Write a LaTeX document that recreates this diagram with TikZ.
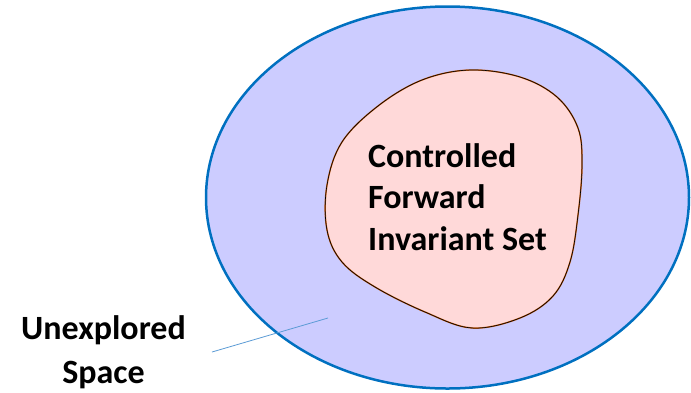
\documentclass[tikz,border=0pt]{standalone}
\usepackage{fontspec}
\setmainfont{Carlito}
\definecolor{outerfill}{HTML}{CCCCFF}
\definecolor{outerline}{HTML}{0070C0}
\definecolor{innerfill}{HTML}{FFD9D9}
\definecolor{innerline}{HTML}{C55A11}
\definecolor{leader}{HTML}{5B9BD5}
\tikzset{
  lbl/.style={font=\bfseries\fontsize{34}{41.5}\selectfont, align=left, inner sep=0pt},
  outlbl/.style={font=\bfseries\fontsize{34}{44}\selectfont, align=center, inner sep=0pt},
}
\begin{document}
\begin{tikzpicture}[x=1pt,y=-1pt]
\useasboundingbox (0,0) rectangle (691,392);
\draw[outerline, fill=outerfill, line width=2.5pt] (447.5,197.5) ellipse [x radius=241.5, y radius=191];
\path[fill=innerfill, draw=innerline, line width=1.4pt] plot[smooth cycle, tension=0.6] coordinates {
 (470,70) (520,77) (557,97) (578,128) (582,165) (578,215) (570,262) (553,296) (520,318) (472,328)
 (425,312) (375,287) (342,262) (327,230) (327,185) (342,142) (378,106) (422,80)};
\draw[black, line width=0.6pt] plot[smooth cycle, tension=0.6] coordinates {
 (470,70) (520,77) (557,97) (578,128) (582,165) (578,215) (570,262) (553,296) (520,318) (472,328)
 (425,312) (375,287) (342,262) (327,230) (327,185) (342,142) (378,106) (422,80)};
\node[lbl, anchor=base west] (cfis) at (368,250) {Controlled\\Forward\\Invariant Set};
\node[outlbl, anchor=base] (ues) at (103.5,383) {Unexplored\\Space};
\coordinate (tip) at (328,318);
\draw[leader, line width=0.8pt] (212,352) -- (tip);
\end{tikzpicture}
\end{document}
